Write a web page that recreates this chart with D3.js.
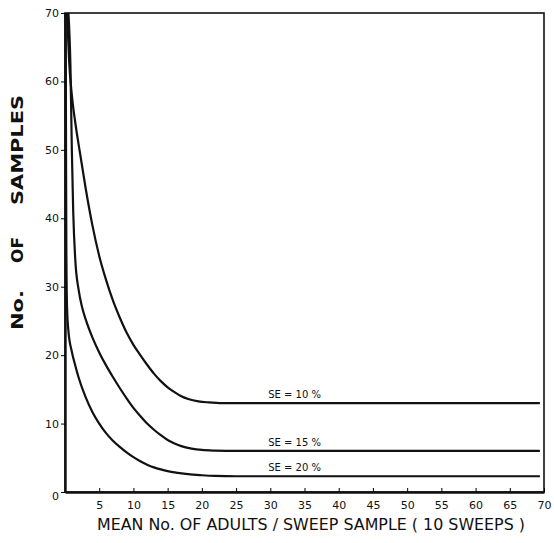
<!DOCTYPE html>
<html>
<head>
<meta charset="utf-8">
<script src="https://cdn.jsdelivr.net/npm/d3@7"></script>
<style>
  body { margin: 0; background: #fff; }
  text { font-family: "DejaVu Sans", sans-serif; fill: #111; }
</style>
</head>
<body>
<svg id="chart" width="554" height="543"></svg>
<script>
// values (x = mean no. adults per sweep sample, y = no. of samples)
const seLabels = ["SE = 10 %", "SE = 15 %", "SE = 20 %"];

const se10 = [
  [0.3, 70], [0.6, 63], [1.0, 58], [1.5, 54], [2.2, 49.5], [3.0, 44.5], [4.0, 39],
  [5.0, 34.5], [6.0, 31], [7.0, 28], [8.0, 25.5], [9.0, 23.3], [10.0, 21.5],
  [11.0, 20.0], [12.0, 18.6], [13.0, 17.3], [14.0, 16.2], [15.0, 15.3], [16.0, 14.6],
  [17.0, 14.0], [18.0, 13.6], [19.5, 13.25], [21, 13.1], [23, 13.0], [69.4, 13.0]
];
const se15 = [
  [0.5, 70], [0.8, 62], [1.0, 50], [1.2, 41], [1.5, 34], [2.0, 29.5], [2.5, 27],
  [3.0, 25.3], [4.0, 22.6], [5.0, 20.4], [6.0, 18.5], [7.0, 16.8], [8.0, 15.2],
  [9.0, 13.7], [10.0, 12.3], [11.0, 11.1], [12.0, 10.0], [13.0, 9.1], [14.0, 8.3],
  [15.0, 7.6], [16.0, 7.1], [17.0, 6.7], [18.5, 6.35], [20, 6.15], [22, 6.05],
  [25, 6.0], [69.4, 6.0]
];
const se20 = [
  [0.1, 70], [0.15, 50], [0.2, 35], [0.3, 27], [0.5, 23.5], [1.0, 20.5], [1.5, 18.5],
  [2.0, 16.7], [3.0, 13.9], [4.0, 11.7], [5.0, 10.0], [6.0, 8.6], [7.0, 7.5],
  [8.0, 6.6], [9.0, 5.8], [10.0, 5.1], [11.0, 4.5], [12.0, 4.0], [13.0, 3.6],
  [14.0, 3.3], [15.0, 3.05], [16.5, 2.8], [18, 2.6], [20, 2.45], [22, 2.35],
  [25, 2.3], [69.4, 2.3]
];
const seriesList = [se10, se15, se20];

const xTicks = [5, 10, 15, 20, 25, 30, 35, 40, 45, 50, 55, 60, 65, 70];
const yTicks = [0, 10, 20, 30, 40, 50, 60, 70];
const labelX = 29.7;

const svg = d3.select("#chart");
const plotL = 65, plotR = 544, plotT = 13, plotB = 492;

const x = d3.scaleLinear().domain([0, 70]).range([plotL, plotR]);
const y = d3.scaleLinear().domain([0, 70]).range([plotB, plotT]);

// frame
svg.append("rect")
  .attr("x", plotL).attr("y", plotT)
  .attr("width", plotR - plotL).attr("height", plotB - plotT)
  .attr("fill", "none").attr("stroke", "#111").attr("stroke-width", 1.6);

// x axis, ticks pointing up
const xAxis = svg.append("g")
  .attr("transform", `translate(0,${plotB})`)
  .call(d3.axisBottom(x).tickValues(xTicks).tickSizeInner(-4).tickSizeOuter(0).tickPadding(9));
xAxis.select(".domain").attr("stroke", "#111").attr("stroke-width", 2.4);
xAxis.selectAll("text").attr("font-size", 11).style("font-family", "DejaVu Sans, sans-serif");

// y axis, short ticks outside
const yAxis = svg.append("g")
  .attr("transform", `translate(${plotL},0)`)
  .call(d3.axisLeft(y).tickValues(yTicks).tickSizeInner(4).tickSizeOuter(0).tickPadding(2));
yAxis.select(".domain").attr("stroke", "#111").attr("stroke-width", 2.4);
yAxis.selectAll("text").attr("font-size", 11).style("font-family", "DejaVu Sans, sans-serif");
yAxis.selectAll(".tick").filter(d => d === 0).select("text").attr("dy", "0.7em");

// curves
const line = d3.line()
  .x(d => x(d[0])).y(d => y(d[1]))
  .curve(d3.curveMonotoneX);

svg.append("g").selectAll("path")
  .data(seriesList)
  .join("path")
  .attr("d", line)
  .attr("fill", "none")
  .attr("stroke", "#111")
  .attr("stroke-width", 2.2);

// SE labels just above each plateau
svg.append("g").selectAll("text")
  .data(seriesList)
  .join("text")
  .attr("x", x(labelX))
  .attr("y", d => y(d[d.length - 1][1]) - 5)
  .attr("font-size", 10)
  .text((d, i) => seLabels[i]);

// y title, word by word (spread out like the original lettering)
const yTitle = [
  { t: "No.", a: 290, b: 330 },
  { t: "OF", a: 237, b: 263 },
  { t: "SAMPLES", a: 95, b: 205 }
];
svg.append("g").selectAll("text")
  .data(yTitle)
  .join("text")
  .attr("transform", d => `translate(23,${(d.a + d.b) / 2}) rotate(-90)`)
  .attr("text-anchor", "middle")
  .attr("font-size", 16)
  .attr("font-weight", "bold")
  .attr("textLength", d => d.b - d.a)
  .attr("lengthAdjust", "spacingAndGlyphs")
  .text(d => d.t);

svg.append("text")
  .attr("x", (97 + 525) / 2)
  .attr("y", 530)
  .attr("text-anchor", "middle")
  .attr("font-size", 15)
  .attr("textLength", 428)
  .attr("lengthAdjust", "spacingAndGlyphs")
  .text("MEAN  No. OF  ADULTS / SWEEP  SAMPLE  ( 10 SWEEPS )");
</script>
</body>
</html>
